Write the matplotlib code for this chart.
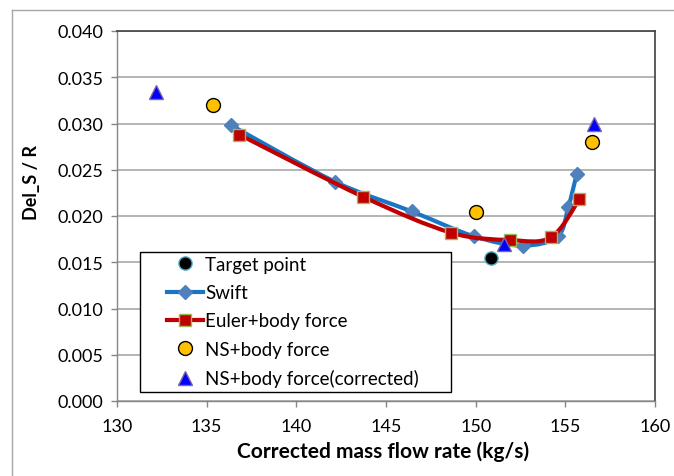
import numpy as np
import matplotlib
matplotlib.use('Agg')
import matplotlib.pyplot as plt
from matplotlib.path import Path
from matplotlib.patches import PathPatch, Rectangle
from matplotlib.lines import Line2D

# mass flow (kg/s) vs Del_S / R
target_x = [150.84]
target_y = [0.0155]

swift_x = [136.36, 142.16, 146.43, 149.91, 152.62, 154.57, 155.17, 155.63]
swift_y = [0.0298, 0.0237, 0.0205, 0.0178, 0.0168, 0.0178, 0.0210, 0.0245]

euler_x = [136.82, 143.70, 148.62, 151.93, 154.20, 155.78]
euler_y = [0.0288, 0.0221, 0.0182, 0.0174, 0.0177, 0.0218]

ns_x = [135.33, 150.00, 156.47]
ns_y = [0.0320, 0.0204, 0.0280]

nsc_x = [132.17, 151.58, 156.62]
nsc_y = [0.0334, 0.0170, 0.0299]

x_ticks = [130, 135, 140, 145, 150, 155, 160]
y_ticks = [0.000, 0.005, 0.010, 0.015, 0.020, 0.025, 0.030, 0.035, 0.040]

FONT = 'Lato'
W, H = 674, 477


def smooth_path(xs, ys):
    # bezier through every point, excel-style smoothed line
    pts = np.column_stack([xs, ys])
    n = len(pts)
    verts = [pts[0]]
    codes = [Path.MOVETO]
    for i in range(n - 1):
        p0 = pts[i - 1] if i > 0 else pts[i]
        p1 = pts[i]
        p2 = pts[i + 1]
        p3 = pts[i + 2] if i + 2 < n else pts[i + 1]
        verts += [p1 + (p2 - p0) / 6.0, p2 - (p3 - p1) / 6.0, p2]
        codes += [Path.CURVE4] * 3
    return Path(verts, codes)


def fx(px):
    return px / W


def fy(py):
    return 1 - py / H


fig = plt.figure(figsize=(6.74, 4.77), dpi=100)
ax = fig.add_axes([fx(117), fy(402), fx(655) - fx(117), fy(32) - fy(402)])

# chart area border
fig.add_artist(Line2D([fx(12), fx(12)], [fy(11), 0], color='#A6A6A6', lw=1.0))
fig.add_artist(Line2D([fx(12), 1], [fy(11), fy(11)], color='#A6A6A6', lw=1.0))

ax.set_xlim(130, 160)
ax.set_ylim(0, 0.04)
ax.set_xticks(x_ticks)
ax.set_yticks(y_ticks)
ax.set_xticklabels([str(t) for t in x_ticks])
ax.set_yticklabels(['%.3f' % t for t in y_ticks])
ax.grid(True, axis='y', color='#A0A0A0', lw=1.1)
ax.set_axisbelow(True)
ax.tick_params(direction='out', length=4, width=1, color='#868686',
               labelsize=13, pad=6)
for lab in ax.get_xticklabels() + ax.get_yticklabels():
    lab.set_family(FONT)
ax.tick_params(axis='x', pad=8)
for s in ['left', 'bottom']:
    ax.spines[s].set_color('#868686')
    ax.spines[s].set_linewidth(1.0)
for s in ['top', 'right']:
    ax.spines[s].set_color('#404040')
    ax.spines[s].set_linewidth(1.2)

swift_blue = '#1A76C4'
swift_mk = '#4F81BD'
euler_red = '#C00000'
euler_edge = '#9BBB59'

ax.add_patch(PathPatch(smooth_path(swift_x, swift_y), fill=False,
                       edgecolor=swift_blue, lw=3.0, zorder=2))
ax.plot(swift_x, swift_y, ls='none', marker='D', ms=7, mfc=swift_mk,
        mec=swift_mk, zorder=3)
ax.add_patch(PathPatch(smooth_path(euler_x, euler_y), fill=False,
                       edgecolor=euler_red, lw=3.0, zorder=4))
ax.plot(euler_x, euler_y, ls='none', marker='s', ms=8.5, mfc=euler_red,
        mec=euler_edge, mew=1.0, zorder=5)
ax.plot(target_x, target_y, ls='none', marker='o', ms=9.5, mfc='black',
        mec='#4BACC6', mew=1.0, zorder=6)
ax.plot(ns_x, ns_y, ls='none', marker='o', ms=10, mfc='#FFC000',
        mec='black', mew=1.0, zorder=6)
ax.plot(nsc_x, nsc_y, ls='none', marker='^', ms=10.5, mfc='#0000FF',
        mec='#7F64A8', mew=1.0, zorder=7)

# legend box drawn by hand, entries placed inside
fig.add_artist(Rectangle((fx(140), fy(393)), fx(451) - fx(140), fy(253) - fy(393),
                         transform=fig.transFigure, facecolor='white',
                         edgecolor='black', lw=1.0, zorder=8))
handles = [
    Line2D([], [], ls='none', marker='o', ms=9.5, mfc='black', mec='#4BACC6'),
    Line2D([], [], color=swift_blue, lw=3.0, marker='D', ms=7, mfc=swift_mk, mec=swift_mk),
    Line2D([], [], color=euler_red, lw=3.0, marker='s', ms=8.5, mfc=euler_red, mec=euler_edge),
    Line2D([], [], ls='none', marker='o', ms=10, mfc='#FFC000', mec='black'),
    Line2D([], [], ls='none', marker='^', ms=10.5, mfc='#0000FF', mec='#7F64A8'),
]
labels = ['Target point', 'Swift', 'Euler+body force', 'NS+body force',
          'NS+body force(corrected)']
leg = fig.legend(handles, labels, loc='upper left',
                 bbox_to_anchor=(fx(167), fy(257)), frameon=False,
                 prop={'family': FONT, 'size': 13.5}, handlelength=1.9,
                 handletextpad=0.15, labelspacing=0.6, borderpad=0.0,
                 borderaxespad=0.0, numpoints=1)
leg.set_zorder(9)

fig.text(fx(383), fy(452), 'Corrected mass flow rate (kg/s)', ha='center',
         va='center', family=FONT, weight='bold', size=15)
fig.text(fx(31), fy(183), 'Del_S / R', ha='center', va='center',
         rotation=90, family=FONT, weight='bold', size=13)

fig.savefig('out.png', dpi=100)
